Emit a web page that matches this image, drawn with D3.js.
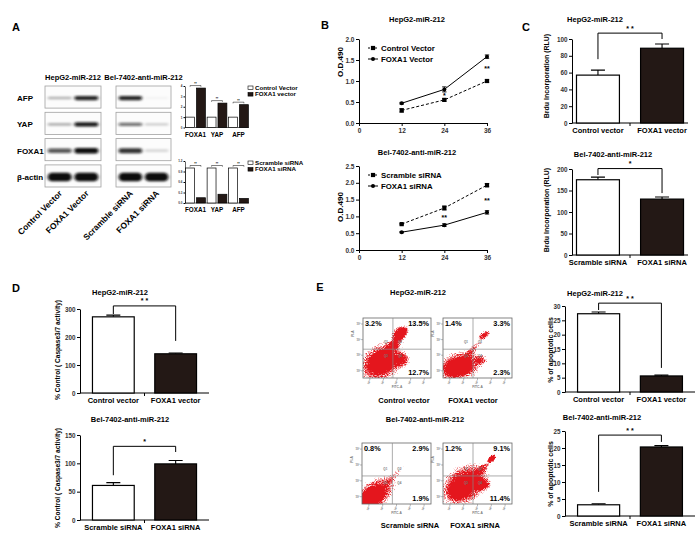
<!DOCTYPE html>
<html>
<head>
<meta charset="utf-8">
<script src="https://cdn.jsdelivr.net/npm/d3@7"></script>
<style>
body { margin: 0; background: #fff; }
text { font-family: "Liberation Sans", Arial, sans-serif; font-weight: bold; }
</style>
</head>
<body>
<svg id="fig"></svg>
<script>
// ---- data ----
const blotRows = ["AFP", "YAP", "FOXA1", "β-actin"];
const hepLanes = ["Control Vector", "FOXA1 Vector"];
const belLanes = ["Scramble siRNA", "FOXA1 siRNA"];
const hepBand = [[0.3, 0.9], [0.3, 0.95], [0.7, 1.0], [1.0, 1.0]];
const belBand = [[0.9, 0.04], [0.6, 0.2], [0.85, 0.15], [1.0, 1.0]];

const aGenes = ["FOXA1", "YAP", "AFP"];
const aCtrlVec = [1, 1, 1];
const aFoxVec = [3.8, 2.35, 2.2];
const aScr = [1, 1, 1];
const aSi = [0.15, 0.25, 0.13];

const hours = [12, 24, 36];
const odCtrl = [0.3, 0.55, 1.0], odCtrlErr = [0.04, 0.03, 0.03];
const odFox = [0.47, 0.8, 1.58], odFoxErr = [0.02, 0.06, 0.04];
const odScr = [0.77, 1.25, 1.93], odScrErr = [0.02, 0.06, 0.05];
const odSi = [0.53, 0.74, 1.12], odSiErr = [0.02, 0.04, 0.05];

const vecCats = ["Control vector", "FOXA1 vector"];
const siCats = ["Scramble siRNA", "FOXA1 siRNA"];
const brduHep = [57, 89], brduHepErr = [6, 5];
const brduBel = [175, 130], brduBelErr = [6, 5];
const caspHep = [272, 140], caspHepErr = [6, 3];
const caspBel = [61, 99], caspBelErr = [5, 6];
const apoHep = [27.3, 5.6], apoHepErr = [0.6, 0.3];
const apoBel = [3.3, 20.3], apoBelErr = [0.3, 0.4];

// flow quadrants: [Q1, Q2, Q4]
const flowHepPct = [["3.2%", "13.5%", "12.7%"], ["1.4%", "3.3%", "2.3%"]];
const flowBelPct = [["0.8%", "2.9%", "1.9%"], ["1.2%", "9.1%", "11.4%"]];
// density blobs: [FITC, PI, spreadX, spreadY, tilt, density]
const flowHepBlobs = [
  [[0.3, 0.3, 0.55, 0.45, -35, 0.45], [0.26, 0.25, 0.42, 0.36, -30, 0.7], [0.28, 0.27, 0.22, 0.2, -30, 1.0],
   [0.45, 0.55, 0.34, 0.12, -50, 0.7], [0.55, 0.76, 0.19, 0.14, -30, 0.9], [0.56, 0.3, 0.19, 0.17, 0, 0.65]],
  [[0.3, 0.25, 0.5, 0.38, -20, 0.4], [0.22, 0.18, 0.44, 0.3, -15, 0.7], [0.22, 0.18, 0.24, 0.17, -15, 1.0],
   [0.6, 0.72, 0.15, 0.09, -30, 0.75], [0.45, 0.5, 0.3, 0.07, -45, 0.45], [0.55, 0.3, 0.12, 0.1, 0, 0.45]]
];
const flowBelBlobs = [
  [[0.25, 0.22, 0.48, 0.36, -35, 0.38], [0.18, 0.16, 0.4, 0.28, -35, 0.68], [0.14, 0.12, 0.24, 0.17, -30, 1.0],
   [0.5, 0.5, 0.34, 0.08, -45, 0.38]],
  [[0.35, 0.35, 0.58, 0.46, -35, 0.45], [0.3, 0.3, 0.46, 0.37, -35, 0.72], [0.27, 0.28, 0.26, 0.19, -40, 1.0],
   [0.55, 0.32, 0.19, 0.12, 0, 0.75], [0.71, 0.75, 0.1, 0.07, -40, 0.95], [0.55, 0.55, 0.3, 0.08, -45, 0.5]]
];

const W = 700, H = 536;
const BLACK = "#231815";
const svg = d3.select("#fig").attr("width", W).attr("height", H);
svg.append("rect").attr("width", W).attr("height", H).attr("fill", "#fff");
const defs = svg.append("defs");

function label(g, x, y, s, size, anchor) {
  return g.append("text").attr("x", x).attr("y", y).attr("font-size", size)
    .attr("text-anchor", anchor || "middle").text(s);
}
function vlabel(g, x, y, s, size) {
  return g.append("text").attr("transform", `translate(${x},${y}) rotate(-90)`)
    .attr("font-size", size).attr("text-anchor", "middle").text(s);
}
function styleAxis(a, fs) {
  a.attr("font-size", fs);
  a.select(".domain").attr("stroke", "#000").attr("stroke-width", 1);
  a.selectAll(".tick line").attr("stroke", "#000");
  a.selectAll(".tick text").attr("fill", "#333");
}

// panel letters
[["A", 16, 31], ["B", 325, 29], ["C", 526, 31], ["D", 16, 292], ["E", 320, 291]].forEach(p =>
  label(svg, p[1], p[2], p[0], 11));

// ---- A: western blots ----
defs.append("filter").attr("id", "bandBlur").attr("x", "-30%").attr("y", "-150%")
  .attr("width", "160%").attr("height", "400%")
  .append("feGaussianBlur").attr("stdDeviation", "1.4 0.8");
const bandH = [4.5, 4.5, 5.5, 8.5];

function blot(x0, x1, title, lanes, bands) {
  const g = svg.append("g");
  const rows = d3.scaleBand().domain(blotRows).range([86, 187]).paddingInner(0.16);
  const lane = d3.scaleBand().domain(lanes).range([x0, x1]).paddingInner(0.1).paddingOuter(0.1);
  label(g, (x0 + x1) / 2, 80, title, 7.5);
  blotRows.forEach((r, i) => {
    g.append("rect").attr("x", x0).attr("y", rows(r)).attr("width", x1 - x0).attr("height", rows.bandwidth())
      .attr("fill", "#fcfcfc").attr("stroke", "#a0a0a0").attr("stroke-width", 0.8);
    lanes.forEach((l, j) => {
      const v = bands[i][j];
      const h = bandH[i] * (0.4 + 0.6 * v);
      g.append("rect").attr("x", lane(l)).attr("y", rows(r) + rows.bandwidth() / 2 + 1 - h / 2)
        .attr("width", lane.bandwidth()).attr("height", h).attr("rx", h / 2)
        .attr("fill", "#0d0d0d").attr("fill-opacity", Math.max(0.04, v))
        .attr("filter", "url(#bandBlur)");
    });
  });
  lanes.forEach(l => {
    g.append("text").attr("transform", `translate(${lane(l) + lane.bandwidth() / 2 + 3},194) rotate(-45)`)
      .attr("text-anchor", "end").attr("font-size", 8.5).text(l);
  });
  return rows;
}
const rowsA = blot(45, 101, "HepG2-miR-212", hepLanes, hepBand);
blot(116, 171, "Bel-7402-anti-miR-212", belLanes, belBand);
blotRows.forEach(r => label(svg, 17, rowsA(r) + rowsA.bandwidth() / 2 + 4, r, 8, "start"));

// ---- A: small bar charts ----
function miniBars(y0, ymax, ytop, ticks, fmt, s1, s2, names) {
  const g = svg.append("g");
  const x = d3.scaleBand().domain(aGenes).range([185, 249]).paddingInner(0.08).paddingOuter(0.03);
  const sub = d3.scaleBand().domain([0, 1]).range([0, x.bandwidth()]).paddingInner(0.18);
  const y = d3.scaleLinear().domain([0, ymax]).range([y0, ytop]);
  const ax = g.append("g").attr("transform", "translate(185,0)")
    .call(d3.axisLeft(y).tickValues(ticks).tickFormat(d3.format(fmt)).tickSize(1.5).tickSizeOuter(0).tickPadding(1));
  styleAxis(ax, 3);
  ax.select(".domain").attr("stroke-width", 0.6);
  g.append("line").attr("x1", 185).attr("x2", 249).attr("y1", y0).attr("y2", y0)
    .attr("stroke", "#000").attr("stroke-width", 0.6);
  aGenes.forEach((gene, i) => {
    [s1[i], s2[i]].forEach((v, j) => {
      g.append("rect").attr("x", x(gene) + sub(j)).attr("y", y(v)).attr("width", sub.bandwidth())
        .attr("height", y0 - y(v)).attr("fill", j ? BLACK : "#fff").attr("stroke", "#000").attr("stroke-width", 0.7);
    });
    const xl = x(gene) + sub(0) + sub.bandwidth() / 2, xr = x(gene) + sub(1) + sub.bandwidth() / 2;
    const by = y(Math.max(s1[i], s2[i])) - 2.5;
    g.append("path").attr("d", `M${xl},${by + 1.2}V${by}H${xr}V${by + 1.2}`)
      .attr("fill", "none").attr("stroke", "#000").attr("stroke-width", 0.5);
    label(g, (xl + xr) / 2, by - 0.4, "**", 3);
    label(g, x(gene) + x.bandwidth() / 2, y0 + 9, gene, 6.3);
  });
  names.forEach((n, j) => {
    const ly = ytop + 2 + j * 6.5;
    g.append("rect").attr("x", 248).attr("y", ly - 2).attr("width", 5).attr("height", 3.6)
      .attr("fill", j ? BLACK : "#fff").attr("stroke", "#000").attr("stroke-width", 0.6);
    label(g, 255, ly + 1.6, n, 6.2, "start");
  });
}
miniBars(127.5, 4, 86, [0, 1, 2, 3, 4], "d", aCtrlVec, aFoxVec, ["Control Vector", "FOXA1 vector"]);
miniBars(203, 1.2, 161, [0, 0.3, 0.6, 0.9, 1.2], ".1f", aScr, aSi, ["Scramble siRNA", "FOXA1 siRNA"]);

// ---- B: line charts ----
function lineChart(o) {
  const g = svg.append("g");
  const x = d3.scaleLinear().domain([0, 36]).range([359, 487]);
  const y = d3.scaleLinear().domain([0, o.ymax]).range([o.y0, o.ytop]);
  const ay = g.append("g").attr("transform", "translate(359,0)")
    .call(d3.axisLeft(y).tickValues(o.ticks).tickFormat(d3.format(".1f")).tickSize(3).tickSizeOuter(0).tickPadding(1.5));
  styleAxis(ay, 6.5);
  const ax = g.append("g").attr("transform", `translate(0,${o.y0})`)
    .call(d3.axisBottom(x).tickValues([0, 12, 24, 36]).tickSize(3).tickSizeOuter(0).tickPadding(2));
  styleAxis(ax, 6.5);
  ax.selectAll(".tick text").attr("font-weight", "normal");
  ay.selectAll(".tick text").attr("font-weight", "normal");
  label(g, 417, o.titleY, o.title, 7.5);
  vlabel(g, 343, o.ylabY, "O.D.490", 8);
  o.series.forEach((s, k) => {
    const line = d3.line().x((d, i) => x(hours[i])).y(d => y(d));
    g.append("path").attr("d", line(s.vals)).attr("fill", "none").attr("stroke", "#000")
      .attr("stroke-width", 1).attr("stroke-dasharray", s.dash ? "3,2" : null);
    s.vals.forEach((v, i) => {
      const cx = x(hours[i]);
      g.append("path").attr("d", `M${cx},${y(v - s.errs[i])}V${y(v + s.errs[i])}M${cx - 2.2},${y(v - s.errs[i])}H${cx + 2.2}M${cx - 2.2},${y(v + s.errs[i])}H${cx + 2.2}`)
        .attr("stroke", "#000").attr("stroke-width", 0.9);
      marker(g, cx, y(v), s.dash);
    });
    const ly = o.legY + k * 11;
    g.append("line").attr("x1", 368).attr("x2", 378).attr("y1", ly).attr("y2", ly).attr("stroke", "#000")
      .attr("stroke-dasharray", s.dash ? "2,1.5" : null);
    marker(g, 373, ly, s.dash);
    label(g, 381, ly + 2.8, s.name, 7.8, "start");
  });
  o.stars.forEach(st => label(g, x(st[0]), y(st[1]) + 2.5, st[2], 7));
}
function marker(g, cx, cy, square) {
  if (square) g.append("rect").attr("x", cx - 2.1).attr("y", cy - 2.1).attr("width", 4.2).attr("height", 4.2).attr("fill", "#000");
  else g.append("circle").attr("cx", cx).attr("cy", cy).attr("r", 2).attr("fill", "#000");
}
lineChart({ y0: 123, ymax: 2, ytop: 39, ticks: [0, 0.5, 1, 1.5, 2], title: "HepG2-miR-212", titleY: 22,
  ylabY: 62, legY: 48,
  series: [{ name: "Control Vector", vals: odCtrl, errs: odCtrlErr, dash: true },
           { name: "FOXA1 Vector", vals: odFox, errs: odFoxErr, dash: false }],
  stars: [[36, 1.3, "**"], [24, 0.66, "*"]] });
lineChart({ y0: 250, ymax: 2.5, ytop: 166, ticks: [0, 0.5, 1, 1.5, 2, 2.5], title: "Bel-7402-anti-miR-212", titleY: 155,
  ylabY: 207, legY: 175,
  series: [{ name: "Scramble siRNA", vals: odScr, errs: odScrErr, dash: true },
           { name: "FOXA1 siRNA", vals: odSi, errs: odSiErr, dash: false }],
  stars: [[24, 0.96, "**"], [36, 1.48, "**"]] });

// ---- C, D, E: bar charts ----
function barChart(o) {
  const g = svg.append("g");
  const x = d3.scaleBand().domain(o.cats).range([o.x0, o.x1]).paddingInner(0.33).paddingOuter(o.pad);
  const y = d3.scaleLinear().domain([0, o.ymax]).range([o.y0, o.ytop]);
  const bw = x.bandwidth();
  const ax = g.append("g").attr("transform", `translate(${o.x0},0)`)
    .call(d3.axisLeft(y).tickValues(o.ticks).tickFormat(d3.format("d")).tickSize(3).tickSizeOuter(0).tickPadding(1.5));
  styleAxis(ax, 6.3);
  ax.selectAll(".tick text").attr("font-weight", "normal");
  g.append("line").attr("x1", o.x0).attr("x2", o.x1).attr("y1", o.y0).attr("y2", o.y0).attr("stroke", "#000");
  const mid = (x(o.cats[0]) + bw + x(o.cats[1])) / 2;
  g.append("line").attr("x1", mid).attr("x2", mid).attr("y1", o.y0).attr("y2", o.y0 + 3).attr("stroke", "#000");
  o.vals.forEach((v, i) => {
    const cx = x(o.cats[i]) + bw / 2, top = y(v + o.errs[i]);
    g.append("path").attr("d", `M${cx},${y(v)}V${top}M${cx - 7},${top}H${cx + 7}`)
      .attr("stroke", "#000").attr("stroke-width", 1.1);
    g.append("rect").attr("x", x(o.cats[i])).attr("y", y(v)).attr("width", bw).attr("height", o.y0 - y(v))
      .attr("fill", i ? BLACK : "#fff").attr("stroke", "#000").attr("stroke-width", 1.2);
    label(g, cx, o.y0 + 10, o.cats[i], 7.5);
  });
  const xl = x(o.cats[0]) + bw / 2, xr = x(o.cats[1]) + bw / 2, b = o.bracket;
  g.append("path").attr("d", `M${xl},${y(b[1])}V${y(b[0])}H${xr}V${y(b[2])}`)
    .attr("fill", "none").attr("stroke", "#000").attr("stroke-width", 1);
  label(g, (xl + xr) / 2, y(b[0]) - 2.5, b[3], 7);
  label(g, o.titleX, o.titleY, o.title, 7.5);
  vlabel(g, o.ylabX, o.ylabY, o.ylab, o.ylabSize);
}
const brduLab = "Brdu  Incorporation (RLU)";
barChart({ x0: 572, x1: 688, y0: 123, ymax: 100, ytop: 39, ticks: [0, 20, 40, 60, 80, 100], pad: 0.07,
  cats: vecCats, vals: brduHep, errs: brduHepErr, bracket: [107, 76, 100, "* *"],
  title: "HepG2-miR-212", titleX: 595, titleY: 22, ylab: brduLab, ylabX: 549, ylabY: 76, ylabSize: 7 });
barChart({ x0: 572, x1: 688, y0: 255, ymax: 200, ytop: 169, ticks: [0, 50, 100, 150, 200], pad: 0.07,
  cats: siCats, vals: brduBel, errs: brduBelErr, bracket: [201, 186, 144, "*"],
  title: "Bel-7402-anti-miR-212", titleX: 613, titleY: 157, ylab: brduLab, ylabX: 549, ylabY: 210, ylabSize: 7 });
const caspLab = "% Control ( Caspase3/7 activity)";
barChart({ x0: 80, x1: 209, y0: 393, ymax: 300, ytop: 309, ticks: [0, 100, 200, 300], pad: 0.2,
  cats: vecCats, vals: caspHep, errs: caspHepErr, bracket: [311, 282, 186, "* *"],
  title: "HepG2-miR-212", titleX: 120, titleY: 295, ylab: caspLab, ylabX: 60, ylabY: 350, ylabSize: 6.6 });
barChart({ x0: 80, x1: 209, y0: 520, ymax: 150, ytop: 435, ticks: [0, 50, 100, 150], pad: 0.2,
  cats: siCats, vals: caspBel, errs: caspBelErr, bracket: [130, 79, 120, "*"],
  title: "Bel-7402-anti-miR-212", titleX: 130, titleY: 422, ylab: caspLab, ylabX: 60, ylabY: 478, ylabSize: 6.6 });
const apoLab = "% of apoptotic cells";
barChart({ x0: 565, x1: 695, y0: 392, ymax: 30, ytop: 306, ticks: [0, 5, 10, 15, 20, 25, 30], pad: 0.2,
  cats: vecCats, vals: apoHep, errs: apoHepErr, bracket: [31, 28.6, 8.4, "* *"],
  title: "HepG2-miR-212", titleX: 595, titleY: 296, ylab: apoLab, ylabX: 553, ylabY: 350, ylabSize: 7 });
barChart({ x0: 565, x1: 695, y0: 516, ymax: 25, ytop: 431, ticks: [0, 5, 10, 15, 20, 25], pad: 0.2,
  cats: siCats, vals: apoBel, errs: apoBelErr, bracket: [23.8, 7.1, 21.8, "* *"],
  title: "Bel-7402-anti-miR-212", titleX: 602, titleY: 420, ylab: apoLab, ylabX: 553, ylabY: 474, ylabSize: 7 });

// ---- E: flow cytometry plots ----
const grad = defs.append("radialGradient").attr("id", "blob");
grad.append("stop").attr("offset", "0%").attr("stop-color", "#000").attr("stop-opacity", 1);
grad.append("stop").attr("offset", "45%").attr("stop-color", "#000").attr("stop-opacity", 0.7);
grad.append("stop").attr("offset", "100%").attr("stop-color", "#000").attr("stop-opacity", 0);
const sp = defs.append("filter").attr("id", "speckle").attr("color-interpolation-filters", "sRGB")
  .attr("x", "-5%").attr("y", "-5%").attr("width", "110%").attr("height", "110%");
sp.append("feTurbulence").attr("type", "fractalNoise").attr("baseFrequency", 0.9).attr("numOctaves", 2)
  .attr("seed", 7).attr("result", "noise");
sp.append("feColorMatrix").attr("in", "noise").attr("type", "matrix")
  .attr("values", "0 0 0 0 0  0 0 0 0 0  0 0 0 0 0  1 0 0 0 0").attr("result", "n");
sp.append("feComposite").attr("in", "SourceAlpha").attr("in2", "n").attr("operator", "arithmetic")
  .attr("k1", 0).attr("k2", 4.2).attr("k3", 2.6).attr("k4", -2.9).attr("result", "m");
sp.append("feFlood").attr("flood-color", "#e4161d").attr("result", "red");
sp.append("feComposite").attr("in", "red").attr("in2", "m").attr("operator", "in");

let clipN = 0;
function flowPlot(x0, x1, y0, y1, qx, qy, pct, blobs) {
  const g = svg.append("g");
  const x = d3.scaleLinear().domain([0, 1]).range([x0, x1]);
  const y = d3.scaleLinear().domain([0, 1]).range([y1, y0]);
  const id = "clip" + (clipN++);
  defs.append("clipPath").attr("id", id).append("rect")
    .attr("x", x0).attr("y", y0).attr("width", x1 - x0).attr("height", y1 - y0);
  const dots = g.append("g").attr("clip-path", `url(#${id})`).append("g").attr("filter", "url(#speckle)");
  blobs.forEach(b => {
    dots.append("ellipse").attr("transform", `translate(${x(b[0])},${y(b[1])}) rotate(${b[4]})`)
      .attr("rx", b[2] * (x1 - x0)).attr("ry", b[3] * (y1 - y0))
      .attr("fill", "url(#blob)").attr("fill-opacity", b[5]);
  });
  g.append("rect").attr("x", x0).attr("y", y0).attr("width", x1 - x0).attr("height", y1 - y0)
    .attr("fill", "none").attr("stroke", "#666").attr("stroke-width", 0.8);
  g.append("path").attr("d", `M${x(qx)},${y0}V${y1}M${x0},${y(qy)}H${x1}`)
    .attr("stroke", "#888").attr("stroke-width", 0.7);
  [["Q1", -7, -6], ["Q2", 7, -6], ["Q3", -7, 8], ["Q4", 7, 8]].forEach(q =>
    label(g, x(qx) + q[1], y(qy) + q[2], q[0], 3).attr("fill", "#777").attr("font-weight", "normal"));
  label(g, x0 + 2, y0 + 8, pct[0], 7.3, "start");
  label(g, x1 - 2, y0 + 8, pct[1], 7.3, "end");
  label(g, x1 - 2, y1 - 3, pct[2], 7.3, "end");
  [0.12, 0.38, 0.64, 0.9].forEach(t => {
    g.append("line").attr("x1", x0 - 2).attr("x2", x0).attr("y1", y(t)).attr("y2", y(t)).attr("stroke", "#777").attr("stroke-width", 0.5);
    label(g, x0 - 2.5, y(t) + 1, "10\u00b3", 2.8, "end").attr("fill", "#777").attr("font-weight", "normal");
  });
  [0.1, 0.3, 0.5, 0.7, 0.9].forEach(t => {
    g.append("line").attr("x1", x(t)).attr("x2", x(t)).attr("y1", y1).attr("y2", y1 + 2).attr("stroke", "#777").attr("stroke-width", 0.5);
    g.append("text").attr("transform", `translate(${x(t) + 1},${y1 + 3}) rotate(-60)`).attr("text-anchor", "end")
      .attr("font-size", 2.8).attr("fill", "#777").attr("font-weight", "normal").text("10\u00b3");
  });
  label(g, (x0 + x1) / 2, y1 + 10, "FITC-A", 3.2).attr("fill", "#777").attr("font-weight", "normal");
  vlabel(g, x0 - 9, y((qy + 1) / 2), "PI-A", 3.2).attr("fill", "#777").attr("font-weight", "normal");
}
label(svg, 418, 295, "HepG2-miR-212", 7.5);
flowPlot(363, 431, 318, 378, 0.44, 0.48, flowHepPct[0], flowHepBlobs[0]);
flowPlot(443, 512, 318, 378, 0.435, 0.48, flowHepPct[1], flowHepBlobs[1]);
label(svg, 404, 403, vecCats[0], 7.5);
label(svg, 473, 403, vecCats[1], 7.5);
label(svg, 425, 422, "Bel-7402-anti-miR-212", 7.5);
flowPlot(362, 431, 443, 504, 0.44, 0.46, flowBelPct[0], flowBelBlobs[0]);
flowPlot(443, 512, 443, 504, 0.435, 0.46, flowBelPct[1], flowBelBlobs[1]);
label(svg, 410, 528, siCats[0], 7.5);
label(svg, 475, 528, siCats[1], 7.5);
</script>
</body>
</html>
